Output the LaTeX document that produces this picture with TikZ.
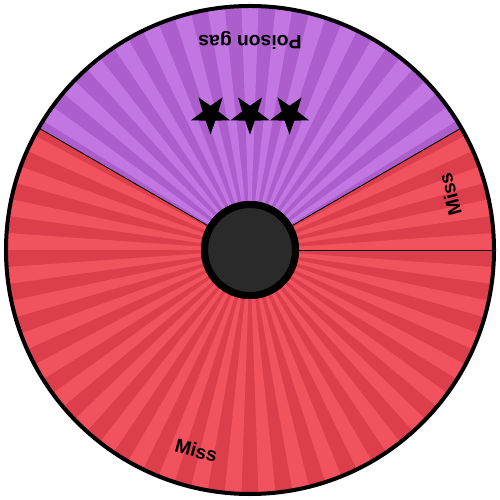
\documentclass[tikz,border=0pt]{standalone}
\usepackage{fontspec}
\setmainfont{Liberation Sans}
\usetikzlibrary{shapes.geometric}
\definecolor{gaslight}{HTML}{C276E2}
\definecolor{gasdark}{HTML}{AC5ECC}
\definecolor{misslight}{HTML}{F2525E}
\definecolor{missdark}{HTML}{DC3E4C}
\definecolor{hubgray}{HTML}{2A2A2A}
\tikzset{
  rim/.style={line width=0.08cm, draw=black},
  divider/.style={line width=0.5pt, draw=black},
  hub/.style={
    circle,
    draw=black,
    line width=0.14cm,
    fill=hubgray,
    minimum size=1.82cm,
    inner sep=0pt,
    outer sep=0pt
  },
  gasstar/.style={
    star,
    star points=5,
    star point ratio=2.5,
    shape border rotate=180,
    fill=black,
    minimum size=0.82cm,
    inner sep=0pt
  },
  sectortext/.style={
    font=\fontsize{11}{13}\selectfont\bfseries,
    inner sep=0pt
  }
}
% one coloured slice of the wheel, with its rays
\newcommand{\wheelsector}[4]{%
  \begin{scope}
    \clip (0,0) -- (#1:4.9) arc[start angle=#1, end angle=#2, radius=4.9] -- cycle;
    \fill[#4] (0,0) circle (4.9);
    \foreach \a in {0,8,...,352}
      \fill[#3] (0,0) -- (\a:4.9) arc[start angle=\a, end angle=\a+4, radius=4.9] -- cycle;
  \end{scope}
}

\begin{document}
\begin{tikzpicture}
  \useasboundingbox (-5,-5) rectangle (5,5);
  \wheelsector{30}{150}{gaslight}{gasdark}
  \wheelsector{0}{30}{misslight}{missdark}
  \wheelsector{150}{360}{misslight}{missdark}
  \node[hub] (hub) at (0,0) {};
  \coordinate (edge0) at (0:4.9);
  \coordinate (edge30) at (30:4.9);
  \coordinate (edge150) at (150:4.9);
  \foreach \e in {edge0,edge30,edge150}
    \draw[divider] (hub) -- (\e);
  \node[hub] at (hub) {};
  \draw[rim] (0,0) circle (4.88);
  % labels
  \node[sectortext, rotate=180] (gas) at (90:4.2) {Poison gas};
  \node[sectortext, rotate=105] (missright) at (15.5:4.15) {Miss};
  \node[sectortext, rotate=-15] (missbig) at (255:4.15) {Miss};
  \foreach \x [count=\i] in {-0.79,0,0.79}
    \node[gasstar] (star\i) at (\x,2.72) {};
\end{tikzpicture}
\end{document}
